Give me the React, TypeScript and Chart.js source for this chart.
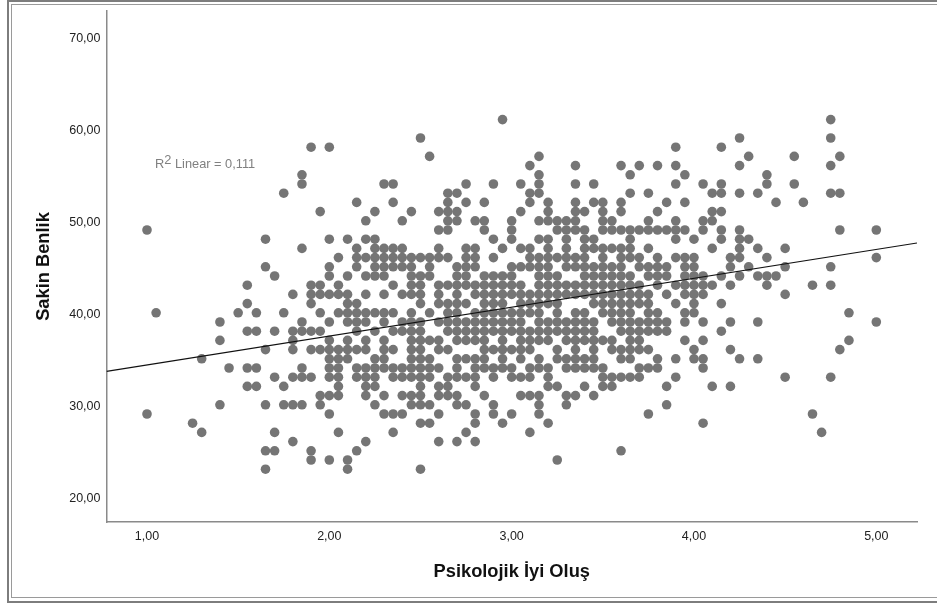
import React, { useEffect, useRef } from "react";
import { Chart, registerables } from "chart.js";

Chart.register(...registerables);

const y61 = [2.95, 4.75];
const y59 = [2.5, 4.25, 4.75];
const y58 = [1.9, 2, 3.9, 4.15];
const y57 = [2.55, 3.15, 4.3, 4.55, 4.8];
const y56 = [3.1, 3.35, 3.6, 3.7, 3.8, 3.9, 4.25, 4.75];
const y55 = [1.85, 3.15, 3.65, 3.95, 4.4];
const y54 = [1.85, 2.3, 2.35, 2.75, 2.9, 3.05, 3.15, 3.35, 3.45, 3.9, 4.05, 4.15, 4.4, 4.55];
const y53 = [1.75, 2.65, 2.7, 3.1, 3.15, 3.65, 3.75, 4.1, 4.15, 4.25, 4.35, 4.75, 4.8];
const y52 = [2.15, 2.35, 2.65, 2.75, 2.85, 3.1, 3.2, 3.35, 3.45, 3.5, 3.6, 3.85, 3.95, 4.45, 4.6];
const y51 = [1.95, 2.25, 2.45, 2.6, 2.65, 2.7, 3.05, 3.2, 3.35, 3.4, 3.5, 3.6, 3.8, 4.1, 4.15];
const y50 = [2.2, 2.4, 2.65, 2.7, 2.8, 2.85, 3, 3.15, 3.2, 3.25, 3.3, 3.35, 3.5, 3.55, 3.75, 3.9, 4.05, 4.1];
const y49 = [1, 2.6, 2.65, 2.85, 3, 3.25, 3.3, 3.35, 3.4, 3.5, 3.55, 3.6, 3.65, 3.7, 3.75, 3.8, 3.85, 3.9, 3.95, 4.05, 4.15, 4.25, 4.8, 5];
const y48 = [1.65, 2, 2.1, 2.2, 2.25, 2.9, 3, 3.15, 3.2, 3.3, 3.4, 3.45, 3.65, 3.9, 4, 4.15, 4.25, 4.3];
const y47 = [1.85, 2.15, 2.25, 2.3, 2.35, 2.4, 2.6, 2.75, 2.8, 2.95, 3.05, 3.1, 3.2, 3.3, 3.4, 3.45, 3.5, 3.55, 3.6, 3.65, 3.75, 4.1, 4.25, 4.35, 4.5];
const y46 = [2.05, 2.15, 2.2, 2.25, 2.3, 2.35, 2.4, 2.45, 2.5, 2.55, 2.6, 2.65, 2.75, 2.8, 2.9, 3.1, 3.15, 3.2, 3.25, 3.3, 3.35, 3.4, 3.5, 3.6, 3.65, 3.7, 3.8, 3.9, 3.95, 4, 4.2, 4.25, 4.4, 5];
const y45 = [1.65, 2, 2.15, 2.25, 2.3, 2.35, 2.4, 2.45, 2.55, 2.7, 2.75, 2.8, 3, 3.05, 3.1, 3.15, 3.2, 3.3, 3.35, 3.4, 3.45, 3.5, 3.55, 3.6, 3.7, 3.75, 3.8, 3.85, 3.95, 4, 4.2, 4.3, 4.5, 4.75];
const y44 = [1.7, 2, 2.1, 2.2, 2.25, 2.3, 2.45, 2.5, 2.55, 2.7, 2.75, 2.85, 2.9, 2.95, 3, 3.15, 3.2, 3.25, 3.4, 3.45, 3.5, 3.55, 3.6, 3.65, 3.75, 3.8, 3.85, 3.95, 4, 4.05, 4.15, 4.25, 4.35, 4.4, 4.45];
const y43 = [1.55, 1.9, 1.95, 2.05, 2.35, 2.45, 2.5, 2.6, 2.65, 2.7, 2.75, 2.8, 2.85, 2.9, 2.95, 3, 3.05, 3.15, 3.2, 3.25, 3.3, 3.35, 3.4, 3.45, 3.5, 3.55, 3.6, 3.65, 3.7, 3.8, 3.9, 3.95, 4, 4.05, 4.1, 4.2, 4.4, 4.65, 4.75];
const y42 = [1.8, 1.9, 1.95, 2, 2.05, 2.1, 2.2, 2.3, 2.4, 2.45, 2.5, 2.6, 2.7, 2.8, 2.85, 2.9, 2.95, 3, 3.05, 3.1, 3.15, 3.2, 3.25, 3.3, 3.35, 3.4, 3.45, 3.5, 3.55, 3.6, 3.65, 3.7, 3.75, 3.85, 3.95, 4, 4.05, 4.5];
const y41 = [1.55, 1.9, 2.1, 2.15, 2.5, 2.6, 2.65, 2.7, 2.75, 2.85, 2.9, 2.95, 3.05, 3.1, 3.15, 3.2, 3.25, 3.45, 3.5, 3.55, 3.6, 3.65, 3.7, 3.75, 3.9, 4, 4.15];
const y40 = [1.05, 1.5, 1.6, 1.75, 1.95, 2.05, 2.1, 2.15, 2.2, 2.25, 2.3, 2.35, 2.45, 2.55, 2.65, 2.7, 2.8, 2.85, 2.9, 2.95, 3, 3.05, 3.1, 3.15, 3.25, 3.35, 3.4, 3.5, 3.55, 3.6, 3.65, 3.75, 3.8, 3.95, 4, 4.85];
const y39 = [1.4, 1.85, 2, 2.1, 2.15, 2.2, 2.3, 2.4, 2.45, 2.5, 2.6, 2.65, 2.7, 2.75, 2.8, 2.85, 2.9, 2.95, 3, 3.05, 3.15, 3.2, 3.25, 3.3, 3.35, 3.4, 3.45, 3.55, 3.6, 3.65, 3.7, 3.75, 3.8, 3.85, 3.95, 4.05, 4.2, 4.35, 5];
const y38 = [1.55, 1.6, 1.7, 1.8, 1.85, 1.9, 1.95, 2.15, 2.25, 2.35, 2.4, 2.45, 2.5, 2.65, 2.7, 2.75, 2.8, 2.85, 2.9, 2.95, 3, 3.05, 3.1, 3.15, 3.2, 3.25, 3.3, 3.35, 3.4, 3.45, 3.6, 3.65, 3.7, 3.75, 3.8, 3.85, 4.15];
const y37 = [1.4, 1.8, 2, 2.1, 2.2, 2.3, 2.45, 2.5, 2.55, 2.6, 2.7, 2.75, 2.8, 2.85, 2.95, 3.05, 3.1, 3.15, 3.2, 3.3, 3.35, 3.4, 3.45, 3.5, 3.55, 3.65, 3.7, 3.95, 4.05, 4.85];
const y36 = [1.65, 1.8, 1.9, 1.95, 2, 2.05, 2.1, 2.15, 2.2, 2.3, 2.35, 2.45, 2.5, 2.6, 2.65, 2.85, 2.9, 2.95, 3, 3.05, 3.1, 3.25, 3.35, 3.45, 3.55, 3.6, 3.65, 3.7, 3.75, 4, 4.2, 4.8];
const y35 = [1.3, 2, 2.05, 2.1, 2.25, 2.3, 2.45, 2.5, 2.55, 2.7, 2.75, 2.8, 2.85, 2.95, 3.05, 3.15, 3.25, 3.3, 3.35, 3.4, 3.45, 3.6, 3.65, 3.8, 3.9, 4, 4.05, 4.25, 4.35];
const y34 = [1.45, 1.55, 1.6, 1.85, 2, 2.05, 2.15, 2.2, 2.25, 2.3, 2.35, 2.4, 2.45, 2.5, 2.55, 2.6, 2.7, 2.8, 2.85, 2.9, 2.95, 3, 3.1, 3.15, 3.2, 3.3, 3.35, 3.4, 3.45, 3.5, 3.7, 3.75, 3.8, 4.05];
const y33 = [1.7, 1.8, 1.85, 1.9, 2, 2.05, 2.15, 2.2, 2.25, 2.35, 2.4, 2.45, 2.5, 2.55, 2.65, 2.7, 2.75, 2.8, 2.9, 3, 3.05, 3.1, 3.2, 3.5, 3.55, 3.6, 3.65, 3.7, 3.9, 4.5, 4.75];
const y32 = [1.55, 1.6, 1.75, 2.05, 2.2, 2.25, 2.5, 2.6, 2.65, 2.8, 3.2, 3.25, 3.4, 3.5, 3.55, 3.85, 4.1, 4.2];
const y31 = [1.95, 2, 2.05, 2.2, 2.3, 2.4, 2.45, 2.5, 2.6, 2.65, 2.7, 2.85, 3.05, 3.1, 3.15, 3.3, 3.35, 3.45];
const y30 = [1.4, 1.65, 1.75, 1.8, 1.85, 1.95, 2.25, 2.45, 2.5, 2.55, 2.7, 2.75, 2.9, 3.15, 3.3, 3.85];
const y29 = [1, 2, 2.3, 2.35, 2.4, 2.6, 2.8, 2.9, 3, 3.15, 3.75, 4.65];
const y28 = [1.25, 2.5, 2.55, 2.8, 2.95, 3.2, 4.05];
const y27 = [1.3, 1.7, 2.05, 2.35, 2.75, 3.1, 4.7];
const y26 = [1.8, 2.2, 2.6, 2.7, 2.8];
const y25 = [1.65, 1.7, 1.9, 2.15, 3.6];
const y24 = [1.9, 2, 2.1, 3.25];
const y23 = [1.65, 2.1, 2.5];

const rows: [number, number[]][] = [
  [61, y61], [59, y59], [58, y58], [57, y57], [56, y56], [55, y55], [54, y54], [53, y53],
  [52, y52], [51, y51], [50, y50], [49, y49], [48, y48], [47, y47], [46, y46], [45, y45],
  [44, y44], [43, y43], [42, y42], [41, y41], [40, y40], [39, y39], [38, y38], [37, y37],
  [36, y36], [35, y35], [34, y34], [33, y33], [32, y32], [31, y31], [30, y30], [29, y29],
  [28, y28], [27, y27], [26, y26], [25, y25], [24, y24], [23, y23],
];

const xTicks = [1, 2, 3, 4, 5];
const yTicks = [20, 30, 40, 50, 60, 70];
const xRange = [0.7779, 5.2232];
const yRange = [17.261, 72.804];
const fitLineY = [33.64, 47.59];
const xTitle = "Psikolojik İyi Oluş";
const yTitle = "Sakin Benlik";
const fitLabelHead = "R";
const fitLabelPower = "2";
const fitLabelTail = " Linear = 0,111";

const FONT = "'Liberation Sans', Arial, sans-serif";
const fmt = (v: number | string) => Number(v).toFixed(2).replace(".", ",");

const framePlugin = {
  id: "frame",
  beforeDraw(chart: any) {
    const { ctx, width, height } = chart;
    ctx.save();
    ctx.fillStyle = "#ffffff";
    ctx.fillRect(0, 0, width, height);
    ctx.fillStyle = "#7d7d7d";
    ctx.fillRect(7, 0, width - 7, 2);
    ctx.fillRect(7, 0, 2, height);
    ctx.fillRect(7, height - 2, width - 7, 2);
    ctx.fillStyle = "#9a9a9a";
    ctx.fillRect(11, 4, width - 11, 1);
    ctx.fillRect(11, 4, 1, height - 9);
    ctx.fillRect(11, height - 6, width - 11, 1);
    ctx.restore();
  },
};

const labelPlugin = {
  id: "fitLabel",
  afterDraw(chart: any) {
    const { ctx, scales } = chart;
    const x0 = scales.x.getPixelForValue(1.044);
    const y0 = scales.y.getPixelForValue(56.1);
    ctx.save();
    ctx.font = `12.8px ${FONT}`;
    ctx.fillStyle = "#808080";
    ctx.textAlign = "left";
    ctx.textBaseline = "middle";
    ctx.fillText(fitLabelHead, x0, y0);
    const w1 = ctx.measureText(fitLabelHead).width;
    ctx.fillText(fitLabelPower, x0 + w1, y0 - 4);
    const w2 = ctx.measureText(fitLabelPower).width;
    ctx.fillText(fitLabelTail, x0 + w1 + w2, y0);
    ctx.restore();
  },
};

export default function App() {
  const ref = useRef<HTMLCanvasElement | null>(null);
  useEffect(() => {
    if (!ref.current) return;
    const points = rows.flatMap(([y, xs]) => xs.map((x) => ({ x, y })));
    const chart = new Chart(ref.current, {
      type: "scatter",
      data: {
        datasets: [
          {
            label: "Gözlemler",
            data: points,
            order: 2,
            pointRadius: 4.8,
            pointBackgroundColor: "#757575",
            pointBorderWidth: 0,
          },
          {
            label: "Linear",
            data: [
              { x: xRange[0], y: fitLineY[0] },
              { x: xRange[1], y: fitLineY[1] },
            ],
            order: 1,
            showLine: true,
            pointRadius: 0,
            borderColor: "#111111",
            borderWidth: 1.2,
          },
        ],
      },
      options: {
        animation: false,
        responsive: false,
        layout: { padding: { top: 11, right: 20, left: 0, bottom: 0 } },
        plugins: { legend: { display: false }, tooltip: { enabled: false } },
        scales: {
          x: {
            type: "linear",
            min: xRange[0],
            max: xRange[1],
            afterBuildTicks: (s: any) => {
              s.ticks = xTicks.map((value) => ({ value }));
            },
            afterFit: (s: any) => {
              s.height = 81;
            },
            grid: { display: false, drawTicks: false },
            border: { display: true, color: "#8a8a8a", width: 1.5 },
            ticks: {
              callback: fmt,
              color: "#222222",
              font: { family: FONT, size: 12.5 },
              padding: 7,
              maxRotation: 0,
              autoSkip: false,
            },
            title: {
              display: true,
              text: xTitle,
              color: "#111111",
              font: { family: FONT, size: 18.3, weight: "bold" },
              padding: { top: 0, bottom: 20.4 },
            },
          },
          y: {
            type: "linear",
            min: yRange[0],
            max: yRange[1],
            afterBuildTicks: (s: any) => {
              s.ticks = yTicks.map((value) => ({ value }));
            },
            afterFit: (s: any) => {
              s.width = 106.5;
              s.paddingTop = 0;
              s.paddingBottom = 0;
            },
            grid: { display: false, drawTicks: false },
            border: { display: true, color: "#8a8a8a", width: 1.5 },
            ticks: {
              callback: fmt,
              color: "#222222",
              font: { family: FONT, size: 12.5 },
              padding: 6,
              labelOffset: 2,
              autoSkip: false,
            },
            title: {
              display: true,
              text: yTitle,
              color: "#111111",
              font: { family: FONT, size: 18.3, weight: "bold" },
              padding: { top: 33, bottom: 0 },
            },
          },
        },
      },
      plugins: [framePlugin, labelPlugin],
    } as any);
    return () => chart.destroy();
  }, []);
  return (
    <div style={{ position: "fixed", left: 0, top: 0, width: 937, height: 603, background: "#fff" }}>
      <canvas ref={ref} width={937} height={603} style={{ display: "block", width: 937, height: 603 }} />
    </div>
  );
}
